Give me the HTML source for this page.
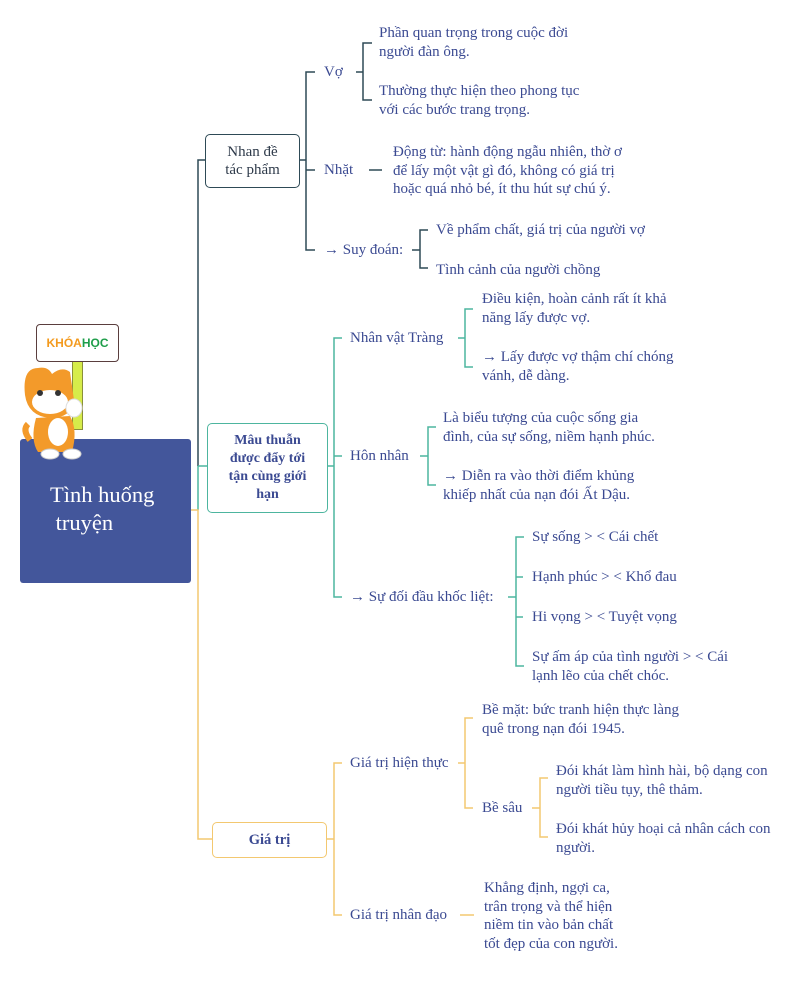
<!DOCTYPE html>
<html><head><meta charset="utf-8"><style>
html,body{margin:0;padding:0;background:#fff}
#c{position:relative;width:800px;height:999px;overflow:hidden;background:#fff;font-family:"Liberation Serif",serif;color:#3b4a92}
.t{position:absolute;font-size:15px;line-height:18.5px;white-space:nowrap}
.box{position:absolute;box-sizing:border-box;border-radius:5px;background:#fff;display:flex;align-items:center;justify-content:center;text-align:center;font-size:14px;line-height:18px}
svg{position:absolute;left:0;top:0}
</style></head><body><div id="c">
<svg width="800" height="999" fill="none" stroke-width="1.5">
<path d="M205 160H198V466" stroke="#2e4a56"/>
<path d="M198 466H207M198 466V510" stroke="#4db59f"/>
<path d="M190 510H198V839H212" stroke="#f3c870"/>
<g stroke="#2e4a56">
<path d="M299 160H306M315 72H306V250H315M306 170H315"/>
<path d="M356 72H363M372 43H363V100H372"/>
<path d="M369 170H382"/>
<path d="M412 250H420M428 230H420V268H428"/>
</g>
<g stroke="#4db59f">
<path d="M327 466H334M342 338H334V597H342M334 456H342"/>
<path d="M458 338H465M473 309H465V367H473"/>
<path d="M420 456H428M436 427H428V485H436"/>
<path d="M508 597H516M524 537H516V666H524M516 577H523M516 617H523"/>
</g>
<g stroke="#f3c870">
<path d="M326 839H334M342 763H334V915H342"/>
<path d="M458 763H465M473 718H465V808H473"/>
<path d="M532 808H540M548 778H540V837H548"/>
<path d="M460 915H474"/>
</g>
</svg>

<div style="position:absolute;left:20px;top:439px;width:171px;height:144px;background:#43569b;border-radius:3px"></div>
<div class="t" style="left:50px;top:481px;color:#fff;font-size:22.5px;line-height:28px;white-space:normal;width:135px">Tình huống<br>&nbsp;truyện</div>
<!-- mascot -->
<div style="position:absolute;left:72px;top:360px;width:9px;height:68px;background:#d6ec4a;border:1px solid #8a8f3a"></div>
<div style="position:absolute;left:36px;top:324px;width:83px;height:38px;box-sizing:border-box;border:1.5px solid #5a3e3e;border-radius:4px;background:#fff;font:bold 12px 'Liberation Sans',sans-serif;display:flex;align-items:center;justify-content:center"><span style="color:#f39a1e">KHÓA</span><span style="color:#1e9e4a">HỌC</span></div>
<svg width="800" height="999">
<path d="M25 395 Q22 368 38 368 Q48 366 52 374 Q62 366 70 372 L74 400 Q72 418 50 418 Q28 416 25 395Z" fill="#f39a2a"/>
<ellipse cx="50" cy="402" rx="18" ry="12" fill="#fff"/>
<circle cx="40" cy="393" r="3" fill="#333"/><circle cx="58" cy="393" r="3" fill="#333"/>
<path d="M36 418 Q30 440 38 452 L72 452 Q78 430 70 416Z" fill="#f39a2a"/>
<ellipse cx="58" cy="432" rx="10" ry="14" fill="#fff"/>
<ellipse cx="74" cy="408" rx="8" ry="9" fill="#fff" stroke="#ddd"/>
<path d="M30 440 Q22 430 28 424" stroke="#f39a2a" stroke-width="6" fill="none"/>
<ellipse cx="50" cy="454" rx="9" ry="5" fill="#fff" stroke="#ccc"/>
<ellipse cx="72" cy="454" rx="9" ry="5" fill="#fff" stroke="#ccc"/>
</svg>

<div class="box" style="left:205px;top:134px;width:95px;height:54px;border:1.5px solid #2e4a56;color:#2e3a4a;font-size:15px">Nhan đề<br>tác phẩm</div>
<div class="box" style="left:207px;top:423px;width:121px;height:90px;border:1.5px solid #4db59f;font-weight:bold">Mâu thuẫn<br>được đẩy tới<br>tận cùng giới<br>hạn</div>
<div class="box" style="left:212px;top:822px;width:115px;height:36px;border:1.5px solid #f3c870;font-weight:bold;font-size:14.5px">Giá trị</div>

<div class="t" style="left:324px;top:63px">Vợ</div>
<div class="t" style="left:379px;top:24px">Phần quan trọng trong cuộc đời<br>người đàn ông.</div>
<div class="t" style="left:379px;top:82px">Thường thực hiện theo phong tục<br>với các bước trang trọng.</div>
<div class="t" style="left:324px;top:161px">Nhặt</div>
<div class="t" style="left:393px;top:143px">Động từ: hành động ngẫu nhiên, thờ ơ<br>để lấy một vật gì đó, không có giá trị<br>hoặc quá nhỏ bé, ít thu hút sự chú ý.</div>
<div class="t" style="left:324px;top:241px">→ Suy đoán:</div>
<div class="t" style="left:436px;top:221px">Về phẩm chất, giá trị của người vợ</div>
<div class="t" style="left:436px;top:261px">Tình cảnh của người chồng</div>

<div class="t" style="left:350px;top:329px">Nhân vật Tràng</div>
<div class="t" style="left:482px;top:290px">Điều kiện, hoàn cảnh rất ít khả<br>năng lấy được vợ.</div>
<div class="t" style="left:482px;top:348px">→ Lấy được vợ thậm chí chóng<br>vánh, dễ dàng.</div>
<div class="t" style="left:350px;top:447px">Hôn nhân</div>
<div class="t" style="left:443px;top:409px">Là biểu tượng của cuộc sống gia<br>đình, của sự sống, niềm hạnh phúc.</div>
<div class="t" style="left:443px;top:467px">→ Diễn ra vào thời điểm khủng<br>khiếp nhất của nạn đói Ất Dậu.</div>
<div class="t" style="left:350px;top:588px">→ Sự đối đầu khốc liệt:</div>
<div class="t" style="left:532px;top:528px">Sự sống &gt; &lt; Cái chết</div>
<div class="t" style="left:532px;top:568px">Hạnh phúc &gt; &lt; Khổ đau</div>
<div class="t" style="left:532px;top:608px">Hi vọng &gt; &lt; Tuyệt vọng</div>
<div class="t" style="left:532px;top:648px">Sự ấm áp của tình người &gt; &lt; Cái<br>lạnh lẽo của chết chóc.</div>

<div class="t" style="left:350px;top:754px">Giá trị hiện thực</div>
<div class="t" style="left:482px;top:701px">Bề mặt: bức tranh hiện thực làng<br>quê trong nạn đói 1945.</div>
<div class="t" style="left:482px;top:799px">Bề sâu</div>
<div class="t" style="left:556px;top:762px">Đói khát làm hình hài, bộ dạng con<br>người tiều tụy, thê thảm.</div>
<div class="t" style="left:556px;top:820px">Đói khát hủy hoại cả nhân cách con<br>người.</div>
<div class="t" style="left:350px;top:906px">Giá trị nhân đạo</div>
<div class="t" style="left:484px;top:879px">Khẳng định, ngợi ca,<br>trân trọng và thể hiện<br>niềm tin vào bản chất<br>tốt đẹp của con người.</div>
</div></body></html>
